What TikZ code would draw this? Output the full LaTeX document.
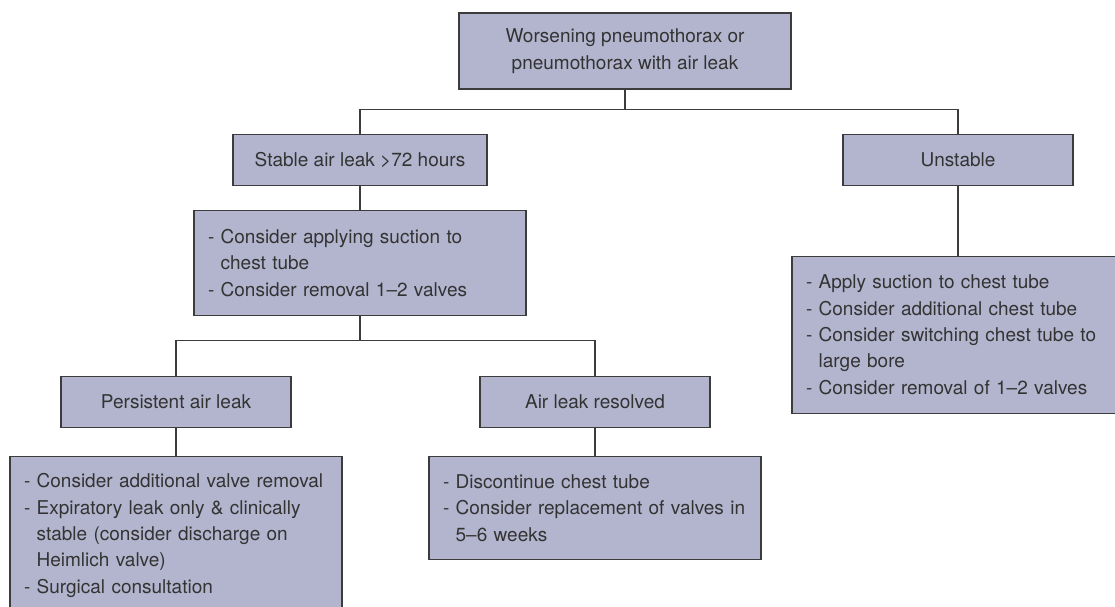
\documentclass[tikz,border=0pt]{standalone}
\usepackage{fontspec}
\setmainfont{TeX Gyre Heros}
\usetikzlibrary{positioning}

\definecolor{boxfill}{RGB}{179,181,206}
\definecolor{boxline}{RGB}{60,60,60}
\definecolor{boxtext}{RGB}{51,51,51}
\newcommand{\listdash}{-\ }
\newcommand{\listgap}{\hphantom{-\ }}

\begin{document}
\begin{tikzpicture}[x=1pt,y=1pt,
                    box/.style={draw=boxline,fill=boxfill,text=boxtext,line width=1.1pt,
                                font=\fontsize{19}{26.4}\selectfont,inner sep=0pt,
                                minimum height=51pt,align=center},
                    tallbox/.style={box,text width=304pt,inner xsep=14pt,align=left},
                    link/.style={draw=boxline,line width=1.1pt}]

\clip (0,0) rectangle (1115,-606);

\node[box,minimum width=332pt,minimum height=76pt] (worse) at (625,-51)
  {Worsening pneumothorax or\\pneumothorax with air leak};
\node[box,minimum width=254pt,below=44pt of worse,xshift=-265pt] (stable) {Stable air leak >72 hours};
\node[box,minimum width=230pt,below=44pt of worse,xshift=333pt] (unstable) {Unstable};

\node[tallbox,minimum height=105pt,below=24pt of stable] (suction)
  {\listdash Consider applying suction to\\\listgap chest tube\\\listdash Consider removal 1–2 valves};
\node[tallbox,minimum height=157pt,below=70pt of unstable] (urgent)
  {\listdash Apply suction to chest tube\\\listdash Consider additional chest tube\\
   \listdash Consider switching chest tube to\\\listgap large bore\\\listdash Consider removal of 1–2 valves};

\node[box,minimum width=230pt,below=60pt of suction,xshift=-184pt] (persist) {Persistent air leak};
\node[box,minimum width=230pt,below=60pt of suction,xshift=235pt] (resolved) {Air leak resolved};

\node[tallbox,minimum height=158pt,below=28pt of persist] (persistnext)
  {\listdash Consider additional valve removal\\\listdash Expiratory leak only \& clinically\\
   \listgap stable (consider discharge on\\\listgap Heimlich valve)\\\listdash Surgical consultation};
\node[tallbox,minimum height=103pt,below=28pt of resolved] (resolvednext)
  {\listdash Discontinue chest tube\\\listdash Consider replacement of valves in\\\listgap 5–6 weeks};

\coordinate[below=20pt of worse] (fork1);
\coordinate[below=25pt of suction] (fork2);

\draw[link] (worse) -- (fork1);
\draw[link] (stable) |- (fork1) -| (unstable);
\draw[link] (stable) -- (suction);
\draw[link] (unstable) -- (urgent);
\draw[link] (suction) -- (fork2);
\draw[link] (persist) |- (fork2) -| (resolved);
\draw[link] (persist) -- (persistnext);
\draw[link] (resolved) -- (resolvednext);

\end{tikzpicture}
\end{document}
